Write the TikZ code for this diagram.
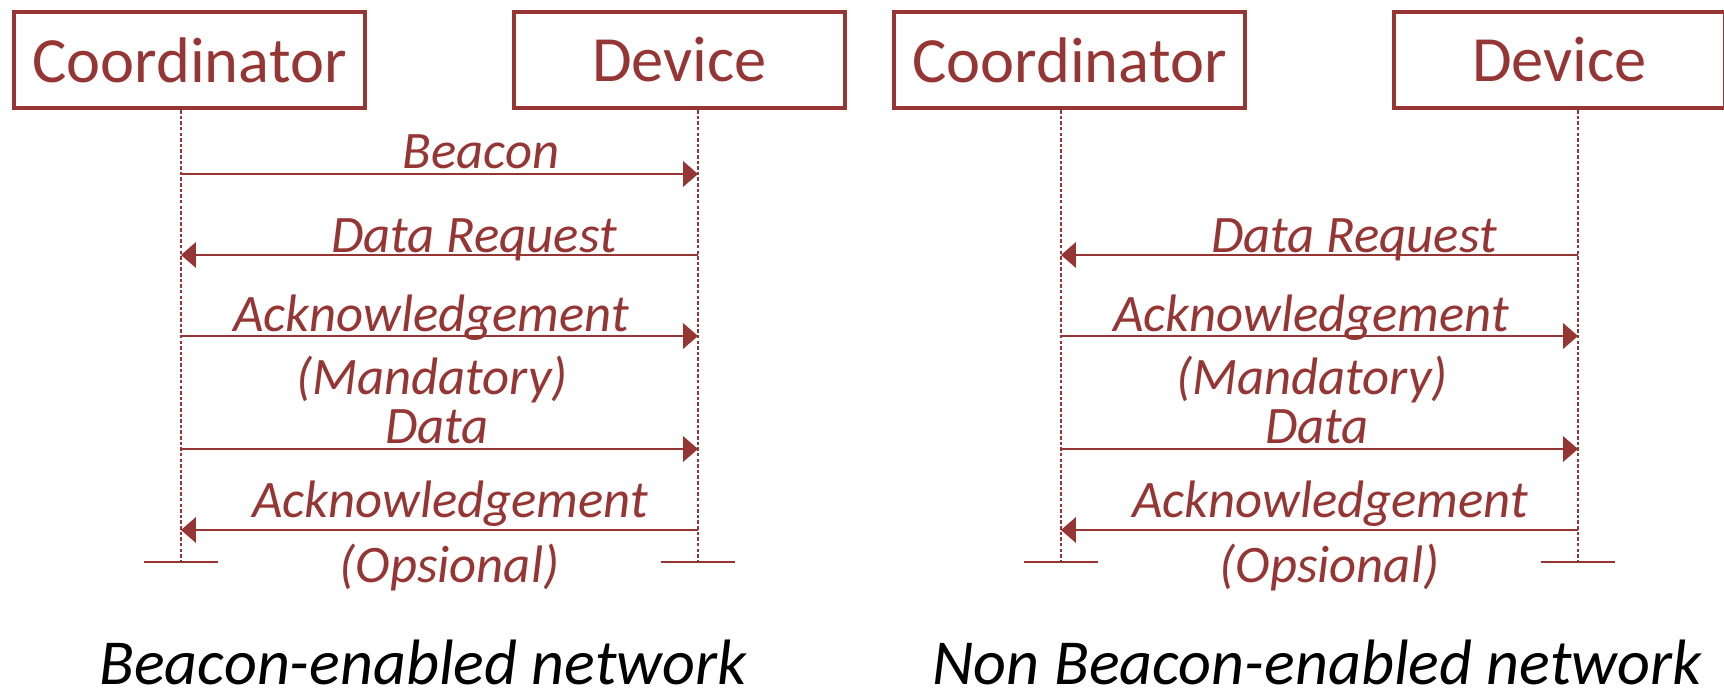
\documentclass[tikz,border=0pt]{standalone}
\usepackage{fontspec}
\setmainfont{Carlito}
\usetikzlibrary{arrows.meta}
\definecolor{seqred}{RGB}{150,54,52}
\tikzset{
    party/.style={draw=seqred, line width=2.3pt, text=seqred, font=\fontsize{36.7}{44}\selectfont, minimum height=1.92cm, inner sep=0pt},
    lifeline/.style={draw=seqred, line width=0.95pt, dash pattern=on 2pt off 1.2pt},
    endbar/.style={draw=seqred, line width=1.1pt},
    msg/.style={draw=seqred, line width=1.1pt, -{Triangle[length=8.5pt, width=14.5pt]}},
    msglbl/.style={text=seqred, font=\fontsize{30}{36}\selectfont\itshape, anchor=base, inner sep=0pt},
    netcaption/.style={font=\fontsize{36.5}{44}\selectfont\itshape, anchor=base, inner sep=0pt, text depth=0pt}
}
\begin{document}
\begin{tikzpicture}[x=0.02cm, y=-0.02cm]
    \useasboundingbox (0,0) rectangle (1724,693);

    % Beacon-enabled network
    \node[party, minimum width=7.02cm] (coordA) at (189.5,60) {Coordinator};
    \node[party, minimum width=6.62cm] (devA) at (679.5,60) {Device};
    \coordinate (coordAend) at (181,562);
    \coordinate (devAend) at (698,562);
    \draw[lifeline] (coordA.south -| coordAend) -- (coordAend);
    \draw[lifeline] (devA.south -| devAend) -- (devAend);
    \draw[endbar] ([xshift=-0.74cm]coordAend) -- ([xshift=0.74cm]coordAend);
    \draw[endbar] ([xshift=-0.74cm]devAend) -- ([xshift=0.74cm]devAend);
    % messages
    \coordinate (rowA1) at (0,174);
    \coordinate (rowA2) at (0,255);
    \coordinate (rowA3) at (0,336);
    \coordinate (rowA4) at (0,449);
    \coordinate (rowA5) at (0,530);
    \draw[msg] (coordAend |- rowA1) -- (devAend |- rowA1);
    \draw[msg] (devAend |- rowA2) -- (coordAend |- rowA2);
    \draw[msg] (coordAend |- rowA3) -- (devAend |- rowA3);
    \draw[msg] (coordAend |- rowA4) -- (devAend |- rowA4);
    \draw[msg] (devAend |- rowA5) -- (coordAend |- rowA5);
    \node[msglbl] (beaconA) at (481,168) {Beacon};
    \node[msglbl] (requestA) at (474,252) {Data Request};
    \node[msglbl] (ackA) at (431,331) {Acknowledgement};
    \node[msglbl] (mandA) at (432,394) {(Mandatory)};
    \node[msglbl] (dataA) at (437,443) {Data};
    \node[msglbl] (ackoptA) at (450,517) {Acknowledgement};
    \node[msglbl] (optA) at (449.5,582) {(Opsional)};
    \node[netcaption] (capA) at (423,684) {Beacon-enabled network};

    % Non Beacon-enabled network
    \node[party, minimum width=7.02cm] (coordB) at (1069.5,60) {Coordinator};
    \node[party, minimum width=6.62cm] (devB) at (1559.5,60) {Device};
    \coordinate (coordBend) at (1061,562);
    \coordinate (devBend) at (1578,562);
    \draw[lifeline] (coordB.south -| coordBend) -- (coordBend);
    \draw[lifeline] (devB.south -| devBend) -- (devBend);
    \draw[endbar] ([xshift=-0.74cm]coordBend) -- ([xshift=0.74cm]coordBend);
    \draw[endbar] ([xshift=-0.74cm]devBend) -- ([xshift=0.74cm]devBend);
    % messages
    \coordinate (rowB2) at (0,255);
    \coordinate (rowB3) at (0,336);
    \coordinate (rowB4) at (0,449);
    \coordinate (rowB5) at (0,530);
    \draw[msg] (devBend |- rowB2) -- (coordBend |- rowB2);
    \draw[msg] (coordBend |- rowB3) -- (devBend |- rowB3);
    \draw[msg] (coordBend |- rowB4) -- (devBend |- rowB4);
    \draw[msg] (devBend |- rowB5) -- (coordBend |- rowB5);
    \node[msglbl] (requestB) at (1354,252) {Data Request};
    \node[msglbl] (ackB) at (1311,331) {Acknowledgement};
    \node[msglbl] (mandB) at (1312,394) {(Mandatory)};
    \node[msglbl] (dataB) at (1317,443) {Data};
    \node[msglbl] (ackoptB) at (1330,517) {Acknowledgement};
    \node[msglbl] (optB) at (1329.5,582) {(Opsional)};
    \node[netcaption] (capB) at (1317,684) {Non Beacon-enabled network};
\end{tikzpicture}
\end{document}
